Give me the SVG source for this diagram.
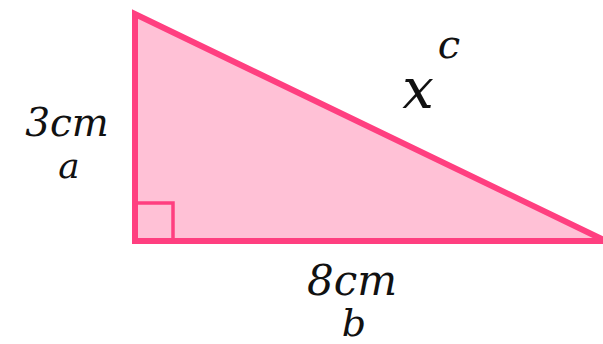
<svg xmlns="http://www.w3.org/2000/svg" width="603" height="344" viewBox="0 0 603 344">
<defs>
<style>
text{font-family:'DejaVu Serif',serif;font-style:italic;fill:#111;text-anchor:middle}
</style>
</defs>
<rect width="603" height="344" fill="#fff"/>
<g id="triangle">
<polygon points="135,14 135,241 606,241" fill="#ffc1d6" stroke="#ff3f80" stroke-width="6" stroke-linejoin="miter"/>
</g>
<g id="right-angle">
<polyline points="135,203 173,203 173,241" fill="none" stroke="#ff3f80" stroke-width="3.5"/>
</g>
<g id="labels">
<text x="67" y="136" font-size="39">3cm</text>
<text x="69" y="178" font-size="36">a</text>
<text x="418" y="108" font-size="56">x</text>
<text x="449" y="58" font-size="40">c</text>
<text x="352" y="295" font-size="42">8cm</text>
<text x="354" y="336" font-size="38">b</text>
</g>
</svg>
